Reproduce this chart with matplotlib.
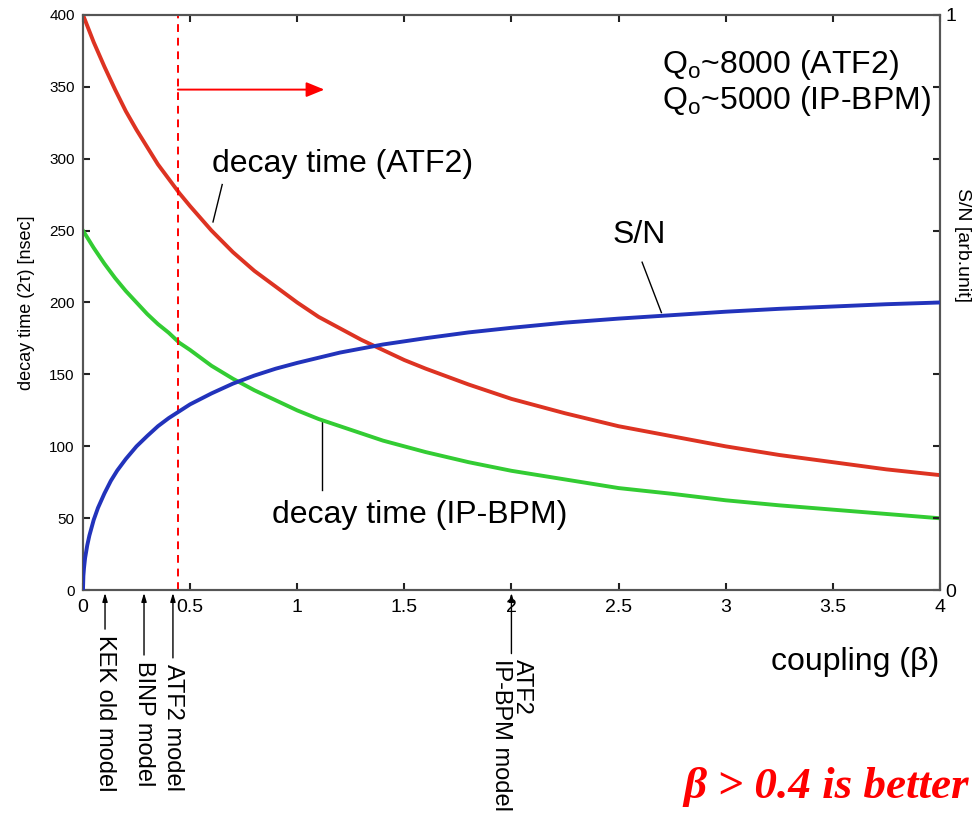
import numpy as np
import matplotlib
matplotlib.use('Agg')
import matplotlib.pyplot as plt

plt.rcParams['font.family'] = ['Liberation Sans', 'DejaVu Sans']
plt.rcParams['mathtext.fontset'] = 'custom'
plt.rcParams['mathtext.rm'] = 'Liberation Sans'

# values
beta_dt = [0, 0.05, 0.1, 0.15, 0.2, 0.25, 0.3, 0.35, 0.4, 0.45, 0.5, 0.6, 0.7, 0.8,
           0.9, 1.0, 1.1, 1.2, 1.3, 1.4, 1.5, 1.6, 1.8, 2.0, 2.25, 2.5, 2.75, 3.0,
           3.25, 3.5, 3.75, 4.0]
decay_atf2 = [400, 381, 364, 348, 333, 320, 308, 296, 286, 276, 267, 250, 235, 222,
              211, 200, 190, 182, 174, 167, 160, 154, 143, 133, 123, 114, 107, 100,
              94, 89, 84, 80]
decay_ipbpm = [250, 238, 227, 217, 208, 200, 192, 185, 179, 172, 167, 156, 147, 139,
               132, 125, 119, 114, 109, 104, 100, 96, 89, 83, 77, 71, 67, 62.5,
               59, 56, 53, 50]

beta_sn = [0, 0.002, 0.005, 0.01, 0.02, 0.03, 0.05, 0.07, 0.1, 0.13, 0.16, 0.2,
           0.25, 0.3, 0.35, 0.4, 0.5, 0.6, 0.7, 0.8, 0.9, 1.0, 1.2, 1.4, 1.6, 1.8,
           2.0, 2.25, 2.5, 2.75, 3.0, 3.25, 3.5, 3.75, 4.0]
sn = [0, 0.025, 0.039, 0.056, 0.078, 0.095, 0.122, 0.143, 0.168, 0.190, 0.208, 0.228,
      0.250, 0.268, 0.285, 0.299, 0.323, 0.342, 0.359, 0.373, 0.385, 0.395, 0.413,
      0.427, 0.438, 0.448, 0.456, 0.465, 0.472, 0.478, 0.484, 0.489, 0.493, 0.497,
      0.5]

models = ['KEK old model', 'BINP model', 'ATF2 model', 'ATF2\nIP-BPM model']
model_beta = [0.103, 0.285, 0.42, 2.0]
model_top = [-29, -47, -49, -46]

cut = 0.444

fig = plt.figure(figsize=(9.76, 8.22), dpi=100)
ax = fig.add_axes([0.085, 0.282, 0.878, 0.7])
edge = '#555555'

ax.plot(beta_dt, decay_atf2, color='#dd3322', lw=2.8, zorder=3)
ax.plot(beta_dt, decay_ipbpm, color='#33cc33', lw=2.8, zorder=3)
ax.set_xlim(0, 4)
ax.set_ylim(0, 400)
ax.set_xticks([0, 0.5, 1, 1.5, 2, 2.5, 3, 3.5, 4])
ax.set_xticklabels(['0', '0.5', '1', '1.5', '2', '2.5', '3', '3.5', '4'])
ax.set_yticks(np.arange(0, 401, 50))
ax.tick_params(axis='x', direction='in', top=True, length=5, width=1.5,
               labelsize=14, pad=6, color='#222222')
ax.tick_params(axis='y', direction='in', length=5, width=1.5, labelsize=11,
               pad=6, color='#222222')
for s in ax.spines.values():
    s.set_color(edge)
    s.set_linewidth(1.5)
ax.set_ylabel('decay time (2\u03c4) [nsec]', fontsize=13, labelpad=10)

ax2 = ax.twinx()
ax2.plot(beta_sn, sn, color='#2233bb', lw=2.8, zorder=3)
ax2.set_ylim(0, 1)
ax2.set_yticks(np.arange(0, 1.001, 0.125))
ax2.set_yticklabels(['0', '', '', '', '', '', '', '', '1'])
ax2.tick_params(axis='y', direction='in', length=5, width=1.5, labelsize=14,
                pad=4, color='#222222')
for s in ax2.spines.values():
    s.set_color(edge)
    s.set_linewidth(1.5)

# cut line and arrow
ax.axvline(cut, color='red', lw=1.4, ls=(0, (4, 3)), zorder=4)
ax.annotate('', xy=(1.14, 348), xytext=(0.43, 348),
            arrowprops=dict(arrowstyle='-|>,head_length=1.1,head_width=0.45',
                            color='red', lw=1.4))

# curve labels
ax.text(0.603, 296, 'decay time (ATF2)', fontsize=23, ha='left', va='center')
ax.plot([0.65, 0.607], [282, 256], color='k', lw=1)
ax.text(2.47, 247, 'S/N', fontsize=23, ha='left', va='center')
ax.plot([2.61, 2.70], [228, 193], color='k', lw=1)
ax.text(0.883, 52, 'decay time (IP-BPM)', fontsize=23, ha='left', va='center')
ax.plot([1.117, 1.117], [118, 70], color='k', lw=1)
ax.text(2.705, 365, 'Q$_\\mathrm{o}$~8000 (ATF2)', fontsize=23, ha='left', va='center')
ax.text(2.705, 340, 'Q$_\\mathrm{o}$~5000 (IP-BPM)', fontsize=23, ha='left', va='center')

# model markers below the axis
for name, b, top in zip(models, model_beta, model_top):
    ax.annotate('', xy=(b, 0), xytext=(b, top), annotation_clip=False,
                arrowprops=dict(arrowstyle='-|>,head_length=0.5,head_width=0.15',
                                color='k', lw=1))
    ax.text(b, top - 2, name, rotation=270, fontsize=17, ha='center', va='top',
            multialignment='left', clip_on=False, linespacing=0.95)

fig.text(939 / 976, 1 - 662 / 822, 'coupling (\u03b2)', fontsize=23,
         ha='right', va='center')
fig.text(963 / 976, 1 - 245 / 822, 'S/N [arb.unit]', fontsize=14, rotation=270,
         ha='center', va='center')
fig.text(683 / 976, 1 - 787 / 822, '\u03b2 > 0.4 is better', fontsize=32.5,
         family='Liberation Serif', weight='bold', style='italic', color='red',
         ha='left', va='center')

fig.savefig('out.png', dpi=100)
